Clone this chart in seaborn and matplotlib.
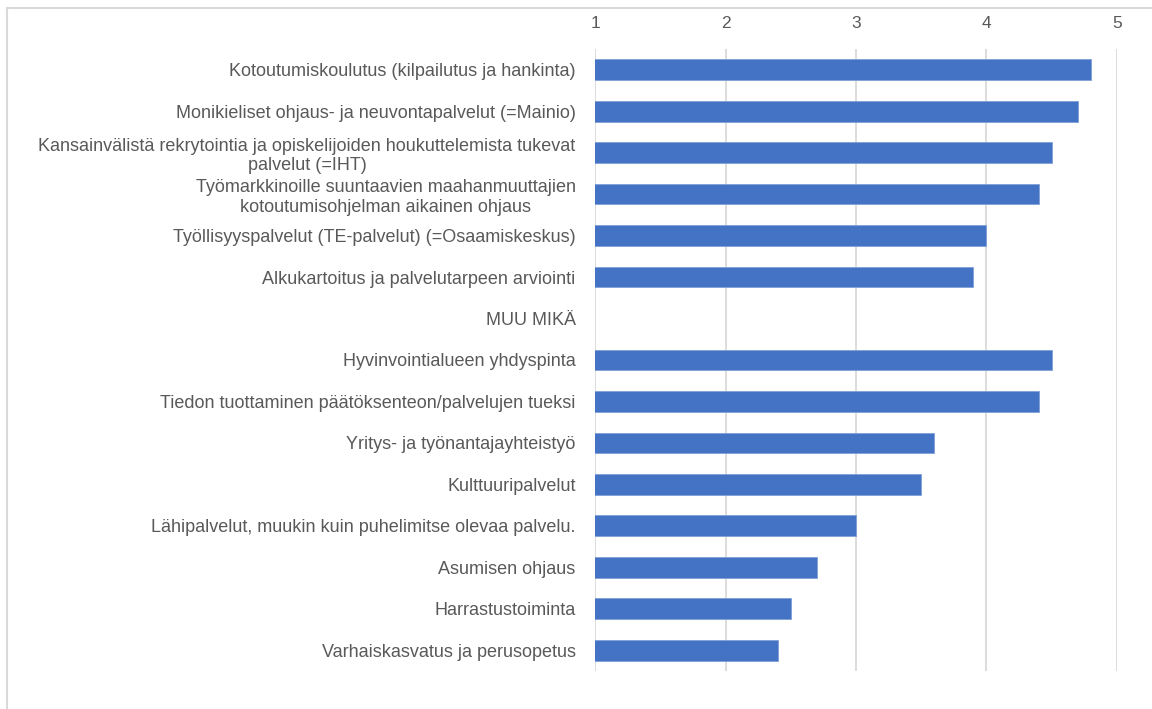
import matplotlib
matplotlib.use('Agg')
import matplotlib.pyplot as plt
import seaborn as sns
import numpy as np
import pandas as pd
from matplotlib.lines import Line2D

# data
categories = [
    "Kotoutumiskoulutus (kilpailutus ja hankinta)",
    "Monikieliset ohjaus- ja neuvontapalvelut (=Mainio)",
    "Kansainvälistä rekrytointia ja opiskelijoiden houkuttelemista tukevat\npalvelut (=IHT)",
    "Työmarkkinoille suuntaavien maahanmuuttajien\nkotoutumisohjelman aikainen ohjaus",
    "Työllisyyspalvelut (TE-palvelut) (=Osaamiskeskus)",
    "Alkukartoitus ja palvelutarpeen arviointi",
    "MUU MIKÄ",
    "Hyvinvointialueen yhdyspinta",
    "Tiedon tuottaminen päätöksenteon/palvelujen tueksi",
    "Yritys- ja työnantajayhteistyö",
    "Kulttuuripalvelut",
    "Lähipalvelut, muukin kuin puhelimitse olevaa palvelu.",
    "Asumisen ohjaus",
    "Harrastustoiminta",
    "Varhaiskasvatus ja perusopetus",
]
values = [4.8, 4.7, 4.5, 4.4, 4.0, 3.9, np.nan, 4.5, 4.4, 3.6, 3.5, 3.0, 2.7, 2.5, 2.4]
x_ticks = [1, 2, 3, 4, 5]

df = pd.DataFrame({"category": categories, "value": values})

sns.set_style("white")
plt.rcParams['font.family'] = ['Liberation Sans', 'DejaVu Sans']

TEXT = '#595959'
GRID = '#d9d9d9'

fig = plt.figure(figsize=(11.52, 7.09), dpi=100)
ax = fig.add_axes([0.5165, 0.0536, 0.4531, 0.8773])

ax.set_axisbelow(True)
sns.barplot(data=df, x="value", y="category", orient="h", color="#4472C4",
            saturation=1, width=0.5, edgecolor="#7f9fd6", linewidth=0.6,
            ax=ax, zorder=3)

ax.set_xlim(1, 5)
ax.set_ylim(len(categories) - 0.5, -0.5)
ax.set_xticks(x_ticks)
ax.xaxis.tick_top()
ax.tick_params(axis='x', length=0, pad=13, labelsize=12.5, labelcolor=TEXT)
ax.tick_params(axis='y', length=0, pad=14, labelsize=13, labelcolor=TEXT)
for lbl in ax.get_yticklabels():
    lbl.set_multialignment('center')
    lbl.set_linespacing(1.2)
ax.xaxis.grid(True, color=GRID, linewidth=1.3)
ax.yaxis.grid(False)
ax.set_xlabel('')
ax.set_ylabel('')
for s in ax.spines.values():
    s.set_visible(False)

# chart frame (left and top edges visible in the reference)
fig.add_artist(Line2D([7 / 1152, 7 / 1152], [0, 1 - 8 / 709], transform=fig.transFigure,
                      color=GRID, linewidth=1.5))
fig.add_artist(Line2D([7 / 1152, 1], [1 - 8 / 709, 1 - 8 / 709], transform=fig.transFigure,
                      color=GRID, linewidth=1.5))

plt.savefig('out.png', dpi=100)
plt.close()
